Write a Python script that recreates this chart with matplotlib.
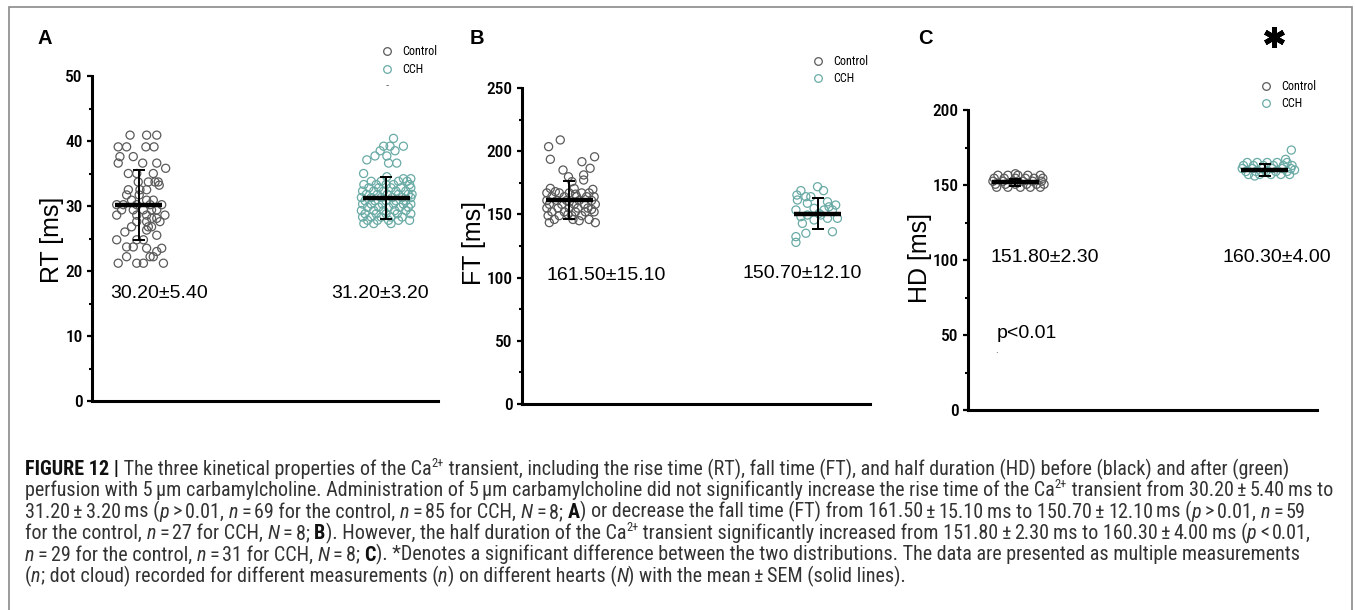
import re
import matplotlib
matplotlib.use('Agg')
import matplotlib.pyplot as plt
from matplotlib import font_manager
from matplotlib.lines import Line2D
from matplotlib.patches import Rectangle

#--- fonts: look for a narrow sans for ticks, legend and caption ---
SANS = 'Liberation Sans'
cands = set()
for f in font_manager.fontManager.ttflist:
    if f.style != 'normal':
        continue
    if 'Narrow' in f.name or 'Condensed' in f.name or f.stretch in ('condensed', 'semi-condensed'):
        cands.add(f.name)
NARROW = SANS
for name in ['Liberation Sans Narrow', 'Arial Narrow', 'Roboto Condensed', 'Noto Sans Condensed',
             'Open Sans Condensed', 'Noto Sans', 'Roboto', 'Open Sans', 'DejaVu Sans']:
    if name in cands:
        NARROW = name
        break
plt.rcParams['font.family'] = [SANS, 'DejaVu Sans']
NFONT = dict(family=[NARROW, 'DejaVu Sans'], stretch='condensed')

#--- data ---
groups = ['Control', 'CCH']
ctrl_color = '#5a5a5a'
cch_color = '#6aaba6'

# A: rise time
rt_ctrl_y = [40.9, 40.9, 40.9, 39.1, 39.1, 39.1, 39.1, 37.6, 37.6, 36.6, 36.6, 36.6, 35.8,
             35.0, 35.0, 35.0, 33.7, 33.7, 33.7, 33.7, 33.2, 32.5, 32.5, 32.5, 31.7, 31.7,
             30.9, 30.9, 30.9, 30.2, 30.2, 30.2, 30.2, 30.2, 29.4, 29.4, 29.4, 29.4, 29.4,
             28.6, 28.6, 28.6, 28.6, 28.1, 28.1, 27.6, 27.6, 27.6, 26.8, 26.8, 26.8, 26.3,
             26.0, 25.5, 24.8, 24.8, 24.8, 23.7, 23.7, 23.5, 23.5, 23.0, 22.2, 22.2, 22.2,
             21.2, 21.2, 21.2, 21.2]
rt_ctrl_dx = [-0.036, 0.031, 0.072, -0.084, -0.05, 0.028, 0.061, -0.077, -0.023, -0.084, 0.015,
              0.072, 0.108, -0.043, -0.009, 0.058, -0.003, 0.038, 0.065, 0.078, 0.082, -0.043,
              0.004, 0.031, -0.05, 0.001, -0.03, 0.031, 0.058, -0.09, -0.063, -0.009, 0.045,
              0.092, -0.07, -0.023, 0.018, 0.051, 0.072, -0.09, -0.009, 0.031, 0.105, 0.051,
              0.072, -0.009, 0.031, 0.085, -0.03, 0.038, 0.051, 0.031, -0.057, 0.072, -0.09,
              -0.009, 0.018, -0.05, -0.023, 0.031, 0.092, 0.072, -0.05, 0.045, 0.058, -0.084,
              -0.009, 0.018, 0.099]
rt_cch_y = [40.4, 39.2, 39.2, 39.2, 38.5, 38.5, 37.7, 37.7, 37.1, 36.6, 36.6, 35.0, 34.5,
            34.2, 34.2, 33.8, 33.8, 33.8, 33.8, 33.3, 33.3, 33.3, 33.3, 33.3,
            32.8, 32.8, 32.8, 32.8, 32.8, 32.3, 32.3, 32.3, 32.3, 32.3,
            31.8, 31.8, 31.8, 31.8, 31.8, 31.8, 31.3, 31.3, 31.3, 31.3, 31.3, 31.3,
            30.8, 30.8, 30.8, 30.8, 30.8, 30.3, 30.3, 30.3, 30.3, 30.3, 30.3,
            29.8, 29.8, 29.8, 29.8, 29.8, 29.3, 29.3, 29.3, 29.3, 29.3,
            28.8, 28.8, 28.8, 28.8, 28.8, 28.3, 28.3, 28.3, 28.3, 28.3,
            27.8, 27.8, 27.8, 27.8, 27.8, 27.3, 27.3, 27.3]
rt_cch_dx = [0.03, -0.01, 0.016, 0.07, -0.024, 0.036, -0.045, 0.003, -0.078, 0.01, 0.043, -0.091,
             0.003, 0.07, 0.1, -0.06, -0.02, 0.05, 0.085, -0.09, -0.04, 0.0, 0.03, 0.095,
             -0.07, -0.03, 0.02, 0.06, 0.1, -0.095, -0.05, -0.01, 0.04, 0.08,
             -0.08, -0.035, 0.005, 0.05, 0.09, 0.105, -0.1, -0.06, -0.02, 0.025, 0.065, 0.1,
             -0.085, -0.045, 0.0, 0.04, 0.08, -0.095, -0.06, -0.015, 0.03, 0.07, 0.1,
             -0.075, -0.03, 0.01, 0.055, 0.09, -0.1, -0.05, -0.01, 0.035, 0.08,
             -0.085, -0.04, 0.0, 0.045, 0.1, -0.095, -0.06, -0.02, 0.02, 0.065,
             -0.075, -0.035, 0.01, 0.05, 0.095, -0.09, -0.05, 0.02]

# B: fall time
ft_ctrl_y = [208.9, 203.6, 193.6, 195.6, 191.7, 186.5, 185.1, 179.8, 181.2, 177.2, 175.9, 170.6,
             169.8, 168.0, 167, 167, 167, 167, 167, 164, 164, 164, 164, 164, 161, 161, 161, 161,
             161, 158, 158, 158, 158, 158, 155, 155, 155, 155, 155, 152, 152, 152, 152, 152,
             149, 149, 149, 149, 146, 146, 146, 143.5, 143.5, 170.5, 166, 160, 154, 150, 145]
ft_ctrl_dx = [-0.036, -0.083, -0.076, 0.102, 0.051, 0.084, -0.025, -0.003, 0.058, 0.058, 0.011,
              -0.076, 0.095, -0.056, -0.09, -0.04, 0.0, 0.05, 0.08, -0.07, -0.02, 0.03, 0.07, 0.1,
              -0.09, -0.05, -0.01, 0.04, 0.09, -0.08, -0.03, 0.02, 0.06, 0.105, -0.09, -0.045,
              0.0, 0.035, 0.075, -0.07, -0.02, 0.025, 0.065, 0.1, -0.085, -0.04, 0.01, 0.05,
              -0.06, 0.015, 0.08, -0.08, 0.105, 0.02, 0.025, 0.0, 0.09, -0.005, 0.04]
ft_cch_y = [168.8, 171.9, 168.8, 165.3, 164.0, 160.0, 161.4, 157.4, 158.8, 153.5, 154.8, 153.5,
            149.5, 148.2, 146.9, 146.9, 149.5, 145.6, 142.9, 136.3, 135.1, 132.4, 127.9, 150.8,
            153.5, 164.0, 156.0]
ft_cch_dx = [-0.068, -0.001, 0.023, -0.084, -0.048, 0.039, -0.082, 0.072, -0.042, -0.088,
             -0.015, 0.059, 0.012, -0.068, 0.039, 0.079, -0.042, -0.015, -0.062, 0.059, -0.048,
             -0.088, -0.088, 0.005, 0.025, -0.028, 0.045]

# C: half duration
hd_ctrl_y = [156.5] * 5 + [154.5] * 6 + [152.5] * 6 + [150.5] * 6 + [148.5] * 5 + [157.5]
hd_ctrl_dx = [-0.07, -0.03, 0.01, 0.05, 0.1, -0.085, -0.045, 0.0, 0.04, 0.075, 0.11,
              -0.09, -0.05, -0.01, 0.03, 0.07, 0.105, -0.08, -0.04, 0.0, 0.045, 0.085, 0.115,
              -0.075, -0.03, 0.02, 0.06, 0.1, 0.0]
hd_cch_y = [165] * 5 + [163] * 6 + [161] * 6 + [159] * 5 + [157] * 5 + [173.3, 167.1, 160, 156]
hd_cch_dx = [-0.07, -0.03, 0.01, 0.05, 0.09, -0.085, -0.045, -0.005, 0.035, 0.075, 0.11,
             -0.09, -0.05, -0.01, 0.03, 0.07, 0.105, -0.075, -0.035, 0.005, 0.045, 0.09,
             -0.065, -0.02, 0.025, 0.065, 0.1, 0.107, 0.084, 0.12, -0.04]

means = {'A': (30.20, 31.20), 'B': (161.50, 150.70), 'C': (151.80, 160.30)}
errs = {'A': (5.40, 3.20), 'B': (15.10, 12.10), 'C': (2.30, 4.00)}

# '~' marks a thin space in the caption
caption = [
    "**FIGURE 12 |** The three kinetical properties of the Ca^2+^ transient, including the rise time (RT), fall time (FT), and half duration (HD) before (black) and after (green)",
    "perfusion with 5~\u00b5m carbamylcholine. Administration of 5~\u00b5m carbamylcholine did not significantly increase the rise time of the Ca^2+^ transient from 30.20~\u00b1~5.40~ms to",
    "31.20~\u00b1~3.20~ms (_p_~>~0.01, _n_~=~69 for the control, _n_~=~85 for CCH, _N_~=~8; **A**) or decrease the fall time (FT) from 161.50~\u00b1~15.10~ms to 150.70~\u00b1~12.10~ms (_p_~>~0.01, _n_~=~59",
    "for the control, _n_~=~27 for CCH, _N_~=~8; **B**). However, the half duration of the Ca^2+^ transient significantly increased from 151.80~\u00b1~2.30~ms to 160.30~\u00b1~4.00~ms (_p_~<~0.01,",
    "_n_~=~29 for the control, _n_~=~31 for CCH, _N_~=~8; **C**). *Denotes a significant difference between the two distributions. The data are presented as multiple measurements",
    "(_n_; dot cloud) recorded for different measurements (_n_) on different hearts (_N_) with the mean~\u00b1~SEM (solid lines).",
]

#--- figure ---
W, H = 1355, 610
fig = plt.figure(figsize=(W / 100, H / 100), dpi=100)
rend = fig.canvas.get_renderer()


def fx(x):
    return x / W


def fy(y):
    return 1 - y / H


def width(txt, kw):
    # advance width in pixels, trailing spaces included
    t = fig.text(0, 0, txt + '|', **kw)
    w1 = t.get_window_extent(renderer=rend).width
    t.remove()
    t = fig.text(0, 0, '|', **kw)
    w2 = t.get_window_extent(renderer=rend).width
    t.remove()
    return w1 - w2


fig.add_artist(Rectangle((fx(9), fy(640)), (1352 - 9) / W, (640 - 7) / H, transform=fig.transFigure,
                         fill=False, ec='#8a8a8a', lw=1.2))

# tick labels: '50' is about 17 px wide in the original
tick_size = 10 * 17 / width('50', dict(size=10, **NFONT))
leg_size = 10 * 35 / width('Control', dict(size=10, **NFONT))

panels = [
    dict(key='A', box=(92, 438, 401, 76), ymax=50, major=range(0, 51, 10), minor=range(5, 50, 10),
         ylabel='RT [ms]', laby=240, letter=(45, 38), leg=(387, 52, 19),
         pts=((rt_ctrl_dx, rt_ctrl_y), (rt_cch_dx, rt_cch_y)),
         notes=((0.08, 16.6), (0.976, 16.6))),
    dict(key='B', box=(522, 870, 404, 88), ymax=250, major=range(0, 251, 50), minor=range(25, 250, 50),
         ylabel='FT [ms]', laby=243, letter=(477, 38), leg=(818, 62, 18),
         pts=((ft_ctrl_dx, ft_ctrl_y), (ft_cch_dx, ft_cch_y)),
         notes=((0.149, 102), (0.937, 103))),
    dict(key='C', box=(968, 1317, 410, 110), ymax=200, major=range(0, 201, 50), minor=range(25, 200, 50),
         ylabel='HD [ms]', laby=258, letter=(925, 38), leg=(1266, 87, 18),
         pts=((hd_ctrl_dx, hd_ctrl_y), (hd_cch_dx, hd_cch_y)),
         notes=((0.116, 102), (1.05, 102))),
]

for p in panels:
    left, right, y0, ytop = p['box']
    ax = fig.add_axes([fx(left), fy(y0), (right - left) / W, (y0 - ytop) / H])
    ax.set_xlim(-0.19, 1.21)
    ax.set_ylim(0, p['ymax'])
    for i, ((dx, ys), col) in enumerate(zip(p['pts'], (ctrl_color, cch_color))):
        ax.scatter([i + d for d in dx], ys, s=34, facecolors='none', edgecolors=col,
                   linewidths=0.9, clip_on=False, zorder=2)
        m, e = means[p['key']][i], errs[p['key']][i]
        ax.hlines(m, i - 0.095, i + 0.095, color='black', lw=3.2, zorder=3)
        ax.errorbar(i, m, yerr=e, fmt='none', ecolor='black', elinewidth=1.4,
                    capsize=4, capthick=1.4, zorder=3)
        nx, ny = p['notes'][i]
        ax.text(nx, ny, '%.2f\u00b1%.2f' % (m, e), ha='center', va='center', size=14)
    for s in ('top', 'right'):
        ax.spines[s].set_visible(False)
    for s in ('left', 'bottom'):
        ax.spines[s].set_linewidth(2.2)
    ax.set_xticks([])
    ax.set_yticks(list(p['major']))
    ax.set_yticks(list(p['minor']), minor=True)
    ax.tick_params(axis='y', which='major', length=3.6, width=1.6, pad=3, labelsize=tick_size)
    ax.tick_params(axis='y', which='minor', length=2, width=1.5)
    for lab in ax.get_yticklabels():
        lab.set_family(NFONT['family'])
        lab.set_stretch('condensed')
        lab.set_weight('medium')
    ax.patch.set_alpha(0)

    # y label just left of the widest tick label
    tick_left = min(t.get_window_extent(renderer=rend).x0 for t in ax.get_yticklabels())
    fig.text(fx(tick_left - 1), fy(p['laby']), p['ylabel'], rotation=90, ha='right', va='center',
             size=18)
    fig.text(fx(p['letter'][0]), fy(p['letter'][1]), p['key'], ha='center', va='center',
             size=14.5, weight='bold')

    mx, my, gap = p['leg']
    fpx = leg_size * 100 / 72
    handles = [Line2D([], [], ls='none', marker='o', mfc='none', mec=c, ms=5.5, mew=0.9)
               for c in (ctrl_color, cch_color)]
    ax.legend(handles, groups, loc='upper left', frameon=False,
              bbox_to_anchor=(fx(mx - fpx / 2), fy(my - 0.58 * fpx)), bbox_transform=fig.transFigure,
              borderpad=0, borderaxespad=0, handlelength=1.0, handletextpad=(15 - fpx / 2) / fpx,
              labelspacing=(gap - 1.15 * fpx) / fpx, prop=dict(size=leg_size, **NFONT))

# small marks seen in the original
fig.text(fx(387), fy(85), '-', ha='center', va='center', size=7, color='#444444')
fig.text(fx(996), fy(350), '.', ha='center', va='center', size=7, color='#444444')
fig.axes[2].text(0.048, 51, 'p<0.01', ha='center', va='center', size=14)
fig.add_artist(Line2D([fx(1274)], [fy(37)], marker=(6, 2, 0), ms=15, mew=3.6, color='black',
                      transform=fig.transFigure))

#--- caption ---
def parts(line, size):
    out = []
    for piece in re.split(r'(\*\*.*?\*\*|_.*?_|\^.*?\^|~)', line):
        if not piece:
            continue
        kw = dict(size=size, color='#333333', **NFONT)
        dy = 0
        if piece == '~':
            out.append((None, kw, size * 0.16 * 100 / 72))
            continue
        if piece.startswith('**'):
            piece = piece[2:-2]
            kw.update(weight='bold', color='#111111')
        elif piece.startswith('_'):
            piece = piece[1:-1]
            kw.update(style='italic')
        elif piece.startswith('^'):
            piece = piece[1:-1]
            kw['size'] = size * 0.62
            dy = size * 0.42 * 100 / 72
        out.append((piece, kw, dy))
    return out


def seg_width(t, kw, dy):
    return dy if t is None else width(t, kw)


w_ref = sum(seg_width(*s) for s in parts(caption[1], 10))
cap_size = 10 * (1330 - 25) / w_ref

for i, line in enumerate(caption):
    x = 25
    base = 475 + 21.4 * i
    for t, kw, dy in parts(line, cap_size):
        if t is None:
            x += dy
            continue
        fig.text(fx(x), fy(base - dy), t, ha='left', va='baseline', **kw)
        x += width(t, kw)

fig.savefig('out.png', dpi=100)
